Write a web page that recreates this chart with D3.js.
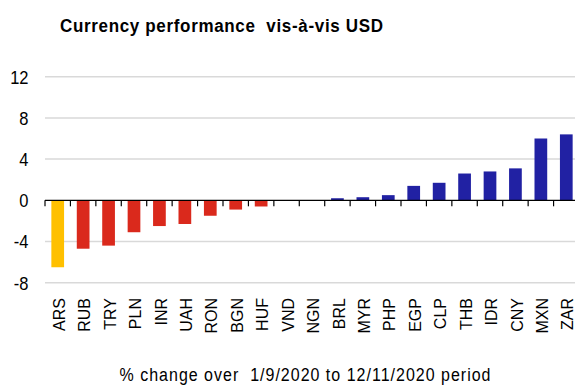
<!DOCTYPE html>
<html><head><meta charset="utf-8">
<script src="https://cdn.jsdelivr.net/npm/d3@7"></script>
<style>body{margin:0;background:#fff}svg{display:block}text{white-space:pre}</style>
</head><body>
<svg id="c" width="575" height="388"></svg>
<script>
const categories = ["ARS","RUB","TRY","PLN","INR","UAH","RON","BGN","HUF","VND","NGN","BRL","MYR","PHP","EGP","CLP","THB","IDR","CNY","MXN","ZAR"];
const values = [-6.5,-4.7,-4.4,-3.1,-2.5,-2.3,-1.5,-0.9,-0.6,0,0,0.2,0.3,0.5,1.4,1.7,2.6,2.8,3.1,6.0,6.4];
const yTicks = [-8,-4,0,4,8,12];
const title = "Currency performance  vis-à-vis USD";
const xTitle = "% change over  1/9/2020 to 12/11/2020 period";

const svg = d3.select("#c");
const font = "'Liberation Sans', Arial, sans-serif";
const x = d3.scaleBand().domain(categories).range([45, 579]).paddingInner(0.5).paddingOuter(0.25);
const xb = d3.scaleBand().domain(categories).range([45, 579]);
const y = d3.scaleLinear().domain([-8, 12]).range([282.7, 76.7]);

svg.append("g").selectAll("line").data(yTicks.filter(d => d !== 0)).join("line")
  .attr("x1", 45).attr("x2", 575).attr("y1", d => y(d)).attr("y2", d => y(d))
  .attr("stroke", "#d9d9d9").attr("stroke-width", 1.5);

svg.append("g").selectAll("text").data(yTicks).join("text")
  .attr("transform", d => `translate(28.5,${y(d)}) scale(1,1.15)`)
  .attr("dy", "0.36em")
  .attr("text-anchor", "end").attr("font-family", font).attr("font-size", 16.5)
  .attr("fill", "#000").text(d => d);

const color = (d, i) => i === 0 ? "#FFC000" : (d < 0 ? "#DA291C" : "#2121A3");
svg.append("g").selectAll("rect").data(values).join("rect")
  .attr("x", (d, i) => x(categories[i]))
  .attr("width", x.bandwidth())
  .attr("y", d => y(Math.max(0, d)))
  .attr("height", d => Math.abs(y(d) - y(0)))
  .attr("fill", color);

// zero axis line with ticks at band boundaries
svg.append("line").attr("x1", 45).attr("x2", 575).attr("y1", y(0)).attr("y2", y(0))
  .attr("stroke", "#000").attr("stroke-width", 1.3);
svg.append("g").selectAll("line").data(categories).join("line")
  .attr("x1", d => xb(d)).attr("x2", d => xb(d))
  .attr("y1", y(0)).attr("y2", y(0) + 6)
  .attr("stroke", "#000").attr("stroke-width", 1.2);

svg.append("g").selectAll("text").data(categories).join("text")
  .attr("transform", d => `translate(${xb(d) + xb.bandwidth()/2 + 1.5},298) rotate(-90)`)
  .attr("text-anchor", "end").attr("dy", "0.35em")
  .attr("font-family", font).attr("font-size", 16).attr("fill", "#000")
  .text(d => d);

svg.append("text").attr("transform", "translate(305,381) scale(1,1.1)")
  .attr("text-anchor", "middle").attr("font-family", font).attr("font-size", 16)
  .attr("textLength", 371).attr("lengthAdjust", "spacing")
  .attr("fill", "#000").text(xTitle);

svg.append("text").attr("transform", "translate(60,31.7) scale(1,1.05)")
  .attr("font-family", font).attr("font-size", 17).attr("font-weight", "bold")
  .attr("textLength", 323).attr("lengthAdjust", "spacing")
  .attr("fill", "#000").text(title);
</script>
</body></html>
